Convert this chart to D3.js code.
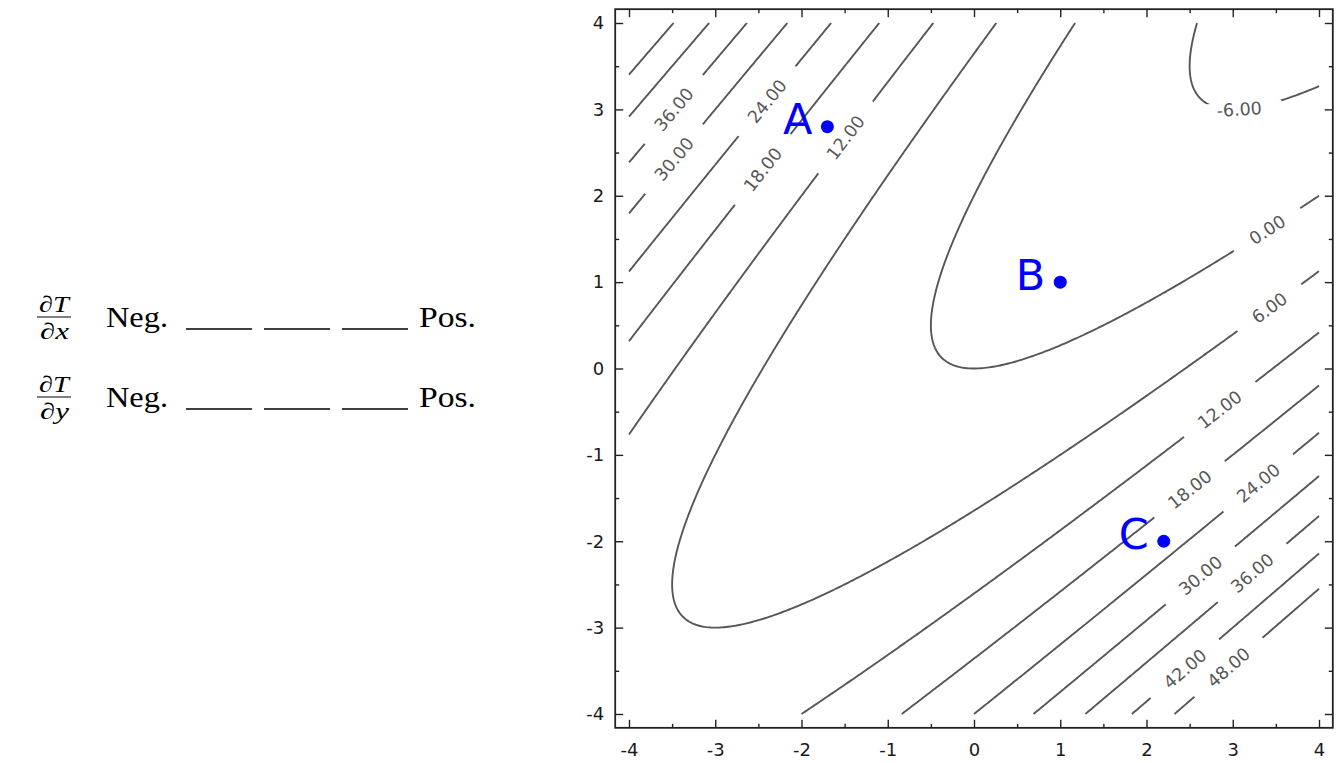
<!DOCTYPE html>
<html>
<head>
<meta charset="utf-8">
<script src="https://cdn.jsdelivr.net/npm/d3@7"></script>
<style>
  html, body { margin: 0; padding: 0; background: #fff; }
  svg { display: block; }
</style>
</head>
<body>
<div id="chart"></div>
<script>
// contour levels of T
var levels = [-6, 0, 6, 12, 18, 24, 30, 36, 42, 48]

// inline contour labels: level + rough spot (data units), snapped onto the line
var labelLevels = [36, 30, 24, 18, 12, -6, 0, 6, 12, 18, 24, 30, 36, 42, 48]
var labelX = [-3.50, -3.50, -2.43, -2.46, -1.50, 3.07, 3.40, 3.42, 2.83, 2.50, 3.28, 2.62, 3.22, 2.42, 2.94]
var labelY = [3.02, 2.44, 3.11, 2.32, 2.69, 3.02, 1.62, 0.72, -0.45, -1.38, -1.31, -2.37, -2.36, -3.46, -3.46]

// marked points
var pointNames = ["A", "B", "C"]
var pointX = [-1.7, 1, 2.2]
var pointY = [2.8, 1, -2]

var xTicks = [-4, -3, -2, -1, 0, 1, 2, 3, 4]
var yTicks = [-4, -3, -2, -1, 0, 1, 2, 3, 4]
var minorTicks = [-3.5, -2.5, -1.5, -0.5, 0.5, 1.5, 2.5, 3.5]

var derivVars = ["x", "y"]

// the temperature field
function T(x, y) {
    return (x - y) * (x - y) - 2 * y
}

var svgWidth = 1342
var svgHeight = 763
var pad = 0.16
var lineColor = "#575757"

var svg = d3.select("#chart").append("svg")
    .attr("width", svgWidth)
    .attr("height", svgHeight)

var x = d3.scaleLinear().domain([-4, 4]).range([629, 1319])
var y = d3.scaleLinear().domain([-4, 4]).range([714, 23])

var frameL = x(-4 - pad), frameR = x(4 + pad)
var frameT = y(4 + pad), frameB = y(-4 - pad)

// ---- contour lines ----
var n = 321
var lo = -4, hi = 4
var step = (hi - lo) / (n - 1)
var values = new Float64Array(n * n)
for (var j = 0; j < n; j++) {
    for (var i = 0; i < n; i++) {
        values[j * n + i] = T(lo + i * step, lo + j * step)
    }
}

var contours = d3.contours().size([n, n]).thresholds(levels)(values)

function onEdge(p) {
    return p[0] <= 0 || p[0] >= n || p[1] <= 0 || p[1] >= n
}

function toPx(p) {
    return [x(lo + (p[0] - 0.5) * step), y(lo + (p[1] - 0.5) * step)]
}

// break the filled rings into open isolines (drop the grid border parts)
function isolines(mp) {
    var lines = []
    mp.coordinates.forEach(function(poly) {
        poly.forEach(function(ring) {
            var pts = ring.slice(0, -1)
            var k = pts.findIndex(onEdge)
            if (k < 0) {
                lines.push(ring.map(toPx))
                return
            }
            var run = []
            for (var s = 1; s <= pts.length; s++) {
                var p = pts[(k + s) % pts.length]
                if (onEdge(p)) {
                    if (run.length > 1) lines.push(run.map(toPx))
                    run = []
                } else {
                    run.push(p)
                }
            }
            if (run.length > 1) lines.push(run.map(toPx))
        })
    })
    return lines
}

var lineSets = contours.map(function(c) {
    return { value: c.value, lines: isolines(c) }
})

var defs = svg.append("defs")
var mask = defs.append("mask")
    .attr("id", "gaps")
    .attr("maskUnits", "userSpaceOnUse")
    .attr("x", 0).attr("y", 0)
    .attr("width", svgWidth).attr("height", svgHeight)
mask.append("rect")
    .attr("width", svgWidth).attr("height", svgHeight)
    .attr("fill", "white")

var lineGen = d3.line()

var contourG = svg.append("g").attr("mask", "url(#gaps)")
lineSets.forEach(function(set) {
    contourG.selectAll(null).data(set.lines)
        .enter().append("path")
        .attr("d", lineGen)
        .attr("fill", "none")
        .attr("stroke", lineColor)
        .attr("stroke-width", 1.9)
})

// ---- inline labels ----
var labelG = svg.append("g")
labelLevels.forEach(function(level, k) {
    var set = lineSets.find(function(s) { return s.value === level })
    var ax = x(labelX[k]), ay = y(labelY[k])
    var best = null
    set.lines.forEach(function(line) {
        line.forEach(function(p, idx) {
            var d = (p[0] - ax) * (p[0] - ax) + (p[1] - ay) * (p[1] - ay)
            if (!best || d < best.d) best = { d: d, line: line, idx: idx }
        })
    })
    var line = best.line
    var p = line[best.idx]
    var a = line[Math.max(0, best.idx - 4)]
    var b = line[Math.min(line.length - 1, best.idx + 4)]
    var ang = Math.atan2(b[1] - a[1], b[0] - a[0]) * 180 / Math.PI
    if (ang > 90) ang -= 180
    if (ang <= -90) ang += 180

    var t = labelG.append("text")
        .attr("transform", "translate(" + p[0] + "," + p[1] + ") rotate(" + ang + ")")
        .attr("text-anchor", "middle")
        .attr("dy", "0.36em")
        .style("font-family", "DejaVu Sans")
        .style("font-size", "17.5px")
        .style("fill", lineColor)
        .text(level.toFixed(2))

    var w = t.node().getComputedTextLength() + 40
    mask.append("rect")
        .attr("transform", "translate(" + p[0] + "," + p[1] + ") rotate(" + ang + ")")
        .attr("x", -w / 2)
        .attr("y", -7)
        .attr("width", w)
        .attr("height", 14)
        .attr("fill", "black")
})

// ---- frame and ticks ----
function styleAxis(g) {
    g.select(".domain").remove()
    g.selectAll("line").attr("stroke", "#222").attr("stroke-width", 1.4)
    g.selectAll("text")
        .style("font-family", "DejaVu Sans")
        .style("font-size", "18px")
        .style("fill", "#1a1a1a")
}

var fmt = function(d) { return String(d) }

svg.append("g")
    .attr("transform", "translate(0," + frameB + ")")
    .call(d3.axisBottom(x).tickValues(xTicks).tickSize(-8).tickPadding(15).tickFormat(fmt))
    .call(styleAxis)
svg.append("g")
    .attr("transform", "translate(0," + frameB + ")")
    .call(d3.axisBottom(x).tickValues(minorTicks).tickSize(-4).tickFormat(""))
    .call(styleAxis)
svg.append("g")
    .attr("transform", "translate(0," + frameT + ")")
    .call(d3.axisTop(x).tickValues(xTicks).tickSize(-8).tickFormat(""))
    .call(styleAxis)
svg.append("g")
    .attr("transform", "translate(0," + frameT + ")")
    .call(d3.axisTop(x).tickValues(minorTicks).tickSize(-4).tickFormat(""))
    .call(styleAxis)

svg.append("g")
    .attr("transform", "translate(" + frameL + ",0)")
    .call(d3.axisLeft(y).tickValues(yTicks).tickSize(-8).tickPadding(11).tickFormat(fmt))
    .call(styleAxis)
svg.append("g")
    .attr("transform", "translate(" + frameL + ",0)")
    .call(d3.axisLeft(y).tickValues(minorTicks).tickSize(-4).tickFormat(""))
    .call(styleAxis)
svg.append("g")
    .attr("transform", "translate(" + frameR + ",0)")
    .call(d3.axisRight(y).tickValues(yTicks).tickSize(-8).tickFormat(""))
    .call(styleAxis)
svg.append("g")
    .attr("transform", "translate(" + frameR + ",0)")
    .call(d3.axisRight(y).tickValues(minorTicks).tickSize(-4).tickFormat(""))
    .call(styleAxis)

svg.append("rect")
    .attr("x", frameL).attr("y", frameT)
    .attr("width", frameR - frameL).attr("height", frameB - frameT)
    .attr("fill", "none")
    .attr("stroke", "#222")
    .attr("stroke-width", 1.8)

// ---- marked points ----
var ptG = svg.append("g")
ptG.selectAll("circle").data(pointNames)
    .enter().append("circle")
    .attr("cx", function(d, i) { return x(pointX[i]) })
    .attr("cy", function(d, i) { return y(pointY[i]) })
    .attr("r", 6.5)
    .attr("fill", "#0000ff")
ptG.selectAll("text").data(pointNames)
    .enter().append("text")
    .attr("x", function(d, i) { return x(pointX[i]) - 15 })
    .attr("y", function(d, i) { return y(pointY[i]) + 7.5 })
    .attr("text-anchor", "end")
    .style("font-family", "DejaVu Sans")
    .style("font-size", "43px")
    .style("fill", "#0000ff")
    .text(function(d) { return d })

// ---- left-hand answer rows ----
var serif = "'Liberation Serif', 'DejaVu Serif', serif"
var rows = svg.append("g").selectAll("g").data(derivVars)
    .enter().append("g")
    .attr("transform", function(d, i) { return "translate(0," + (327 + i * 80) + ")" })

rows.append("text")
    .attr("x", 39).attr("y", -15)
    .attr("textLength", 30)
    .attr("lengthAdjust", "spacingAndGlyphs")
    .style("font-family", serif)
    .style("font-style", "italic")
    .style("font-size", "23px")
    .text("\u2202T")
rows.append("line")
    .attr("x1", 37).attr("x2", 71)
    .attr("y1", -10).attr("y2", -10)
    .attr("stroke", "#000").attr("stroke-width", 1.1)
rows.append("text")
    .attr("x", 40).attr("y", 12)
    .attr("textLength", 29)
    .attr("lengthAdjust", "spacingAndGlyphs")
    .style("font-family", serif)
    .style("font-style", "italic")
    .style("font-size", "23px")
    .text(function(d) { return "\u2202" + d })

rows.append("text")
    .attr("x", 106).attr("y", 0)
    .attr("textLength", 62)
    .attr("lengthAdjust", "spacingAndGlyphs")
    .style("font-family", serif)
    .style("font-size", "30px")
    .text("Neg.")
rows.append("text")
    .attr("x", 419).attr("y", 0)
    .attr("textLength", 57)
    .attr("lengthAdjust", "spacingAndGlyphs")
    .style("font-family", serif)
    .style("font-size", "30px")
    .text("Pos.")
rows.selectAll("line.blank").data([186, 264, 342])
    .enter().append("line")
    .attr("class", "blank")
    .attr("x1", function(d) { return d })
    .attr("x2", function(d) { return d + 66 })
    .attr("y1", 2).attr("y2", 2)
    .attr("stroke", "#000").attr("stroke-width", 1.3)
</script>
</body>
</html>
